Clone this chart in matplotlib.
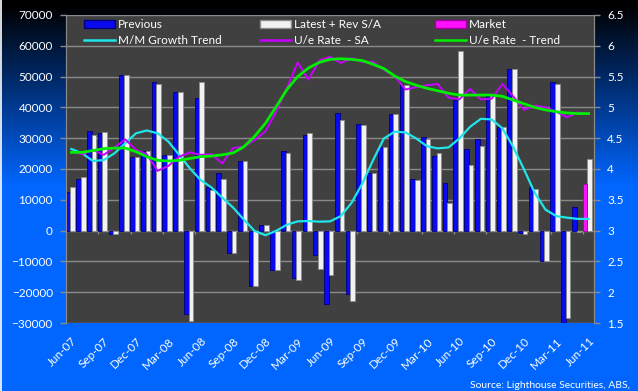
import numpy as np
import pandas as pd
import matplotlib
matplotlib.use('Agg')
import matplotlib.pyplot as plt
from matplotlib.patches import Patch
from matplotlib.lines import Line2D

plt.rcParams['font.family'] = ['Lato', 'DejaVu Sans']

# monthly categories Jun-07 .. Jun-11
months = pd.date_range('2007-06-01', periods=49, freq='MS').strftime('%b-%y').tolist()

nan = np.nan
previous = [12600, 16900, 32200, 31600, -1000, 50400, 23800, 25700, 48300, 24700,
            45000, -27000, 43100, 14200, 18600, -7200, 22500, -17900, 1900, -12900,
            25700, -15300, 30900, -8000, -23800, 38100, -20500, 34600, 18600, 27200,
            37900, 47300, 16600, 30300, 24200, 15600, 42400, 26400, 29600, 43700,
            33500, 52400, -800, 14000, -9900, 48300, -30000, 7700, nan]
latest = [14200, 17300, 30900, 31900, -1100, 50400, 23900, 25700, 47500, 24400,
          45000, -29200, 48300, 13100, 16900, -7200, 22500, -17900, 1900, -12900,
          25100, -15900, 31600, -12600, -14300, 35900, -22700, 34300, 18600, 27200,
          37900, 47300, 16400, 29700, 25100, 8800, 58400, 21300, 27500, 43700,
          33500, 52400, -1200, 13400, -9900, 47600, -28300, -500, 23400]
market = [nan] * 48 + [15100]

mm_trend = [26500, 25100, 22600, 22900, 25100, 28400, 31600, 32500, 31600, 28900,
            24600, 20200, 16400, 14000, 10700, 7500, 3600, -100, -1500, -100,
            1900, 3000, 3100, 2900, 3000, 4700, 9000, 15300, 22900, 29900,
            32100, 31900, 29900, 27400, 26700, 27000, 29900, 33700, 36300, 36100,
            33200, 27200, 19900, 12300, 6800, 4700, 4200, 3800, 3800]

ue_sa = [4.28, 4.24, 4.31, 4.23, 4.35, 4.48, 4.31, 4.24, 3.97, 4.05,
         4.20, 4.27, 4.23, 4.24, 4.09, 4.34, 4.36, 4.47, 4.61, 4.93,
         5.31, 5.73, 5.45, 5.76, 5.82, 5.72, 5.80, 5.74, 5.74, 5.61,
         5.51, 5.29, 5.33, 5.36, 5.38, 5.16, 5.13, 5.30, 5.13, 5.14,
         5.38, 5.18, 4.96, 5.03, 5.00, 4.93, 4.84, 4.92, 4.89]

ue_trend = [4.27, 4.27, 4.30, 4.33, 4.34, 4.34, 4.28, 4.20, 4.14, 4.13,
            4.14, 4.17, 4.20, 4.21, 4.23, 4.26, 4.36, 4.53, 4.74, 5.01,
            5.29, 5.50, 5.64, 5.73, 5.78, 5.79, 5.78, 5.76, 5.70, 5.63,
            5.51, 5.42, 5.36, 5.31, 5.27, 5.23, 5.20, 5.20, 5.20, 5.20,
            5.18, 5.12, 5.06, 5.00, 4.96, 4.93, 4.91, 4.90, 4.90]

BLUE = '#0a0aee'
WHITE = '#f2f2f2'
MAGENTA = '#ff10ff'
CYAN = '#1ee6ea'
PURPLE = '#c800ff'
GREEN = '#00ee00'
GRID = '#8a8a8a'

fig = plt.figure(figsize=(6.38, 3.91), dpi=100)

# background gradient black -> blue
bg = fig.add_axes([0, 0, 1, 1], zorder=-10)
rows = np.arange(391)
t = np.clip((rows - 5) / 180.0, 0, 1)
grad = np.zeros((391, 1, 3))
grad[:, 0, 1] = 0.40 * t
grad[:, 0, 2] = 1.0 * t
bg.imshow(grad, aspect='auto', extent=[0, 1, 0, 1], origin='upper')
bg.axvline(0.001, color='white', lw=1.2)
bg.axis('off')

ax = fig.add_axes([66 / 638, 1 - 323 / 391, 528 / 638, 308 / 391])
ax.set_facecolor('#404040')

x = np.arange(len(months))
w = 0.43
ax.bar(x - 0.33, previous, w, color=BLUE, edgecolor='#00007a', linewidth=0.6, zorder=3)
ax.bar(x + 0.10, latest, w, color=WHITE, edgecolor='#8c8c8c', linewidth=0.6, zorder=3)
ax.bar(x - 0.33, market, w, color=MAGENTA, edgecolor='#a000a0', linewidth=0.6, zorder=3)
ax.plot(x, mm_trend, color=CYAN, lw=1.6, zorder=5)

ax.set_xlim(-0.5, 48.5)
ax.set_ylim(-30000, 70000)
ax.set_yticks(np.arange(-30000, 70001, 10000))
ax.grid(axis='y', color=GRID, lw=1, zorder=1)
ax.set_axisbelow(True)

# category ticks on the zero line
ax.vlines(np.arange(2.5, 48, 3), -1100, 0, color=GRID, lw=1, zorder=2)

ax.set_xticks(x[::3])
ax.set_xticklabels(months[::3], rotation=45, ha='right', rotation_mode='anchor')
ax.tick_params(axis='x', length=0, pad=9, colors='white', labelsize=8.5)
ax.tick_params(axis='y', length=4, width=1, color=GRID, pad=5.5, labelcolor='white', labelsize=8.5)
for s in ['top', 'bottom']:
    ax.spines[s].set_visible(False)
for s in ['left', 'right']:
    ax.spines[s].set_color(GRID)

ax2 = ax.twinx()
ax2.plot(x, ue_sa, color=PURPLE, lw=1.4, zorder=5)
ax2.plot(x, ue_trend, color=GREEN, lw=2.0, zorder=6)
ax2.set_ylim(1.5, 6.5)
ax2.set_yticks(np.arange(1.5, 6.51, 0.5))
ax2.set_yticklabels(['%g' % v for v in np.arange(1.5, 6.51, 0.5)])
ax2.tick_params(axis='y', length=4, width=1, color=GRID, pad=5.5, labelcolor='white', labelsize=8.5)
for s in ['top', 'bottom']:
    ax2.spines[s].set_visible(False)
for s in ['left', 'right']:
    ax2.spines[s].set_color(GRID)

# legend, three columns placed separately
groups = [
    (84, [Patch(facecolor=BLUE, edgecolor='#00007a'), Line2D([], [], color=CYAN, lw=1.8)],
     ['Previous', 'M/M Growth Trend']),
    (260, [Patch(facecolor=WHITE, edgecolor='#8c8c8c'), Line2D([], [], color=PURPLE, lw=1.8)],
     ['Latest + Rev S/A', 'U/e Rate  - SA']),
    (435, [Patch(facecolor=MAGENTA, edgecolor='#a000a0'), Line2D([], [], color=GREEN, lw=1.8)],
     ['Market', 'U/e Rate  - Trend']),
]
for px, handles, labels in groups:
    fig.legend(handles, labels, loc='upper left', bbox_to_anchor=(px / 638, 1 - 19 / 391),
               frameon=False, fontsize=8.5, labelcolor='white', handlelength=2.6,
               handletextpad=0.3, labelspacing=0.45, borderpad=0, borderaxespad=0)

fig.text(630 / 638, 1 - 385 / 391, 'Source: Lighthouse Securities, ABS,', color='white',
         fontsize=7.5, ha='right', va='center')

fig.savefig('out.png', dpi=100)
